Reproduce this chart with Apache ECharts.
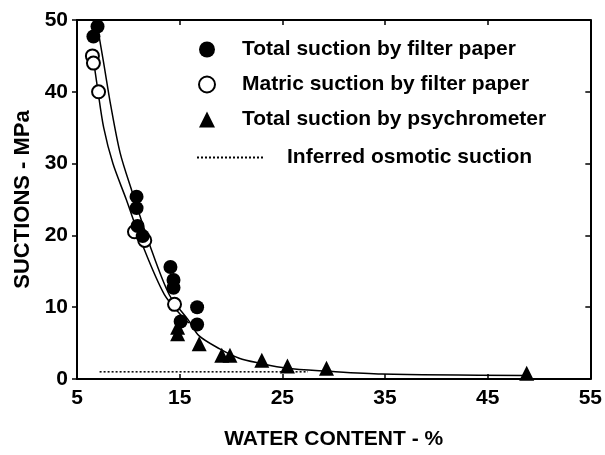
<!DOCTYPE html>
<html>
<head>
<meta charset="utf-8">
<script src="https://cdn.jsdelivr.net/npm/echarts@6/dist/echarts.min.js"></script>
<style>
  html, body { margin: 0; padding: 0; background: #fff; }
  #chart { width: 605px; height: 455px; }
</style>
</head>
<body>
<div id="chart"></div>
<script>
// measured points (water content %, suction MPa)
const totalFilter = [[6.6, 47.7], [7.0, 49.1], [10.8, 25.4], [10.8, 23.8], [10.9, 21.3], [11.4, 19.9],
  [14.1, 15.6], [14.4, 13.8], [14.4, 12.7], [15.1, 8.0], [16.7, 10.0], [16.7, 7.6]]
const matricFilter = [[6.5, 45.0], [6.6, 44.0], [7.1, 40.0], [10.6, 20.5], [11.6, 19.3], [14.5, 10.4]]
const psychrometer = [[14.8, 6.3], [14.8, 7.2], [16.9, 4.9], [19.1, 3.3], [19.9, 3.3], [23.0, 2.6],
  [25.5, 1.8], [29.3, 1.5], [48.8, 0.8]]

// fitted curves
const totalCurve = [[7.0, 49.0], [7.6, 44.0], [8.3, 38.0], [9.2, 31.5], [10.3, 26.4], [12.1, 18.6],
  [14.0, 11.7], [15.8, 8.3], [16.9, 6.0], [18.9, 4.2], [20.8, 2.9], [22.8, 2.2], [25.4, 1.5],
  [29.3, 1.1], [34.7, 0.7], [48.7, 0.5]]
const matricCurve = [[6.5, 45.5], [7.0, 40.5], [7.6, 35.0], [8.5, 30.0], [9.8, 25.0], [11.4, 18.6],
  [13.5, 11.8], [15.3, 8.6], [15.9, 7.8]]
const osmoticLine = [[7.2, 1.0], [27.5, 1.0]]

const xTicks = { min: 5, max: 55, interval: 10 }
const yTicks = { min: 0, max: 50, interval: 10 }

const font = '"Liberation Sans", Arial, sans-serif'
const chart = echarts.init(document.getElementById('chart'))

const option = {
  animation: false,
  backgroundColor: '#fff',
  grid: { left: 77, right: 13, top: 20, bottom: 69 },
  legend: [
    {
      data: ['Total suction by filter paper', 'Matric suction by filter paper', 'Total suction by psychrometer'],
      orient: 'vertical', left: 193, top: 34,
      itemWidth: 16, itemHeight: 16, itemGap: 14,
      selectedMode: false,
      textStyle: { fontFamily: font, fontWeight: 'bold', fontSize: 21, color: '#000', padding: [0, 0, 0, 22] }
    },
    {
      data: [{ name: 'Inferred osmotic suction', itemStyle: { opacity: 0 } }],
      left: 191, top: 142,
      itemWidth: 66, itemHeight: 14,
      selectedMode: false,
      textStyle: { fontFamily: font, fontWeight: 'bold', fontSize: 21, color: '#000', padding: [0, 0, 0, 19] }
    }
  ],
  xAxis: [
    {
      type: 'value', ...xTicks,
      name: 'WATER CONTENT - %', nameLocation: 'middle', nameGap: 50,
      nameTextStyle: { fontFamily: font, fontWeight: 'bold', fontSize: 21, color: '#000' },
      axisLine: { onZero: false, lineStyle: { color: '#000', width: 2 } },
      axisTick: { inside: true, length: 5, lineStyle: { color: '#000', width: 1.5 } },
      axisLabel: { fontFamily: font, fontWeight: 'bold', fontSize: 21, color: '#000', margin: 9 },
      splitLine: { show: false }
    },
    {
      type: 'value', position: 'top', ...xTicks,
      axisLine: { onZero: false, lineStyle: { color: '#000', width: 2 } },
      axisTick: { inside: true, length: 5, lineStyle: { color: '#000', width: 1.5 } },
      axisLabel: { show: false },
      splitLine: { show: false }
    }
  ],
  yAxis: [
    {
      type: 'value', ...yTicks,
      name: 'SUCTIONS - MPa', nameLocation: 'middle', nameGap: 42, nameRotate: 90,
      nameTextStyle: { fontFamily: font, fontWeight: 'bold', fontSize: 22, color: '#000' },
      axisLine: { onZero: false, lineStyle: { color: '#000', width: 2 } },
      axisTick: { length: 5, lineStyle: { color: '#000', width: 1.5 } },
      axisLabel: { fontFamily: font, fontWeight: 'bold', fontSize: 21, color: '#000', margin: 9 },
      splitLine: { show: false }
    },
    {
      type: 'value', position: 'right', ...yTicks,
      axisLine: { onZero: false, lineStyle: { color: '#000', width: 2 } },
      axisTick: { inside: true, length: 5, lineStyle: { color: '#000', width: 1.5 } },
      axisLabel: { show: false },
      splitLine: { show: false }
    }
  ],
  series: [
    {
      name: 'total curve', type: 'line', data: totalCurve, smooth: 0.3,
      symbol: 'none', lineStyle: { color: '#000', width: 1.5 }, z: 1
    },
    {
      name: 'matric curve', type: 'line', data: matricCurve, smooth: 0.3,
      symbol: 'none', lineStyle: { color: '#000', width: 1.5 }, z: 1
    },
    {
      name: 'Inferred osmotic suction', type: 'line', data: osmoticLine,
      symbol: 'none', itemStyle: { color: '#000' },
      lineStyle: { color: '#000', width: 1.5, type: [2, 2] }, z: 1
    },
    {
      name: 'Total suction by psychrometer', type: 'scatter', data: psychrometer,
      symbol: 'triangle', symbolSize: 15, itemStyle: { color: '#000', opacity: 1 }, z: 3
    },
    {
      name: 'Matric suction by filter paper', type: 'scatter', data: matricFilter,
      symbol: 'circle', symbolSize: 13,
      itemStyle: { color: '#fff', borderColor: '#000', borderWidth: 2, opacity: 1 }, z: 3
    },
    {
      name: 'Total suction by filter paper', type: 'scatter', data: totalFilter,
      symbol: 'circle', symbolSize: 14, itemStyle: { color: '#000', opacity: 1 }, z: 4
    }
  ]
}

chart.setOption(option)
</script>
</body>
</html>
